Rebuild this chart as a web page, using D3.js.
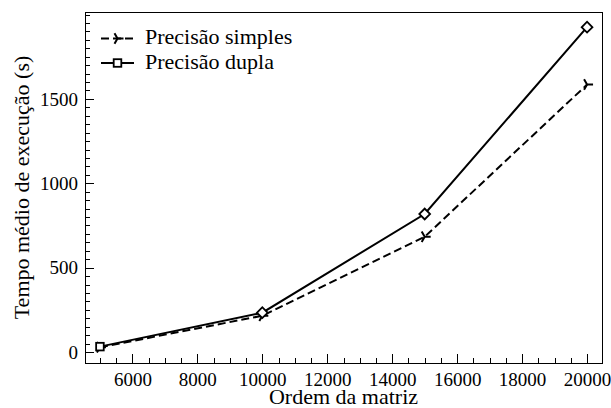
<!DOCTYPE html>
<html><head><meta charset="utf-8">
<script src="https://cdn.jsdelivr.net/npm/d3@7"></script>
<style>body{margin:0;background:#fff}</style>
</head><body>
<svg id="c" width="611" height="408"></svg>
<script>
// data
const sizes = [5000, 10000, 15000, 20000];
const simples = [28, 215, 683, 1585];
const dupla = [32, 233, 818, 1925];
const xTickValues = [6000, 8000, 10000, 12000, 14000, 16000, 18000, 20000];
const yTickValues = [0, 500, 1000, 1500];
const seriesNames = ["Precisão simples", "Precisão dupla"];
const xTitle = "Ordem da matriz";
const yTitle = "Tempo médio de execução (s)";

const FONT = '"Liberation Serif", "Times New Roman", serif';
const svg = d3.select("#c");
const L = 85, R = 602, T = 12, B = 363;
const x = d3.scaleLinear().domain([4540, 20460]).range([L, R]);
const y = d3.scaleLinear().domain([-65, 2015]).range([B, T]);
const TICK_FS = 19, TITLE_FS = 22;

// minor ticks
const xMinor = d3.range(5000, 20001, 500).filter(v => !xTickValues.includes(v));
const yMinor = d3.range(0, 2001, 50).filter(v => !yTickValues.includes(v));

const gx = svg.append("g").attr("transform", `translate(0,${B})`)
  .call(d3.axisBottom(x).tickValues(xTickValues).tickFormat(d3.format("d")).tickSizeInner(-9).tickSizeOuter(0));
const gxm = svg.append("g").attr("transform", `translate(0,${B})`)
  .call(d3.axisBottom(x).tickValues(xMinor).tickFormat("").tickSizeInner(-5).tickSizeOuter(0));
const gy = svg.append("g").attr("transform", `translate(${L},0)`)
  .call(d3.axisLeft(y).tickValues(yTickValues).tickFormat(d3.format("d")).tickSizeInner(-9).tickSizeOuter(0).tickPadding(7));
const gym = svg.append("g").attr("transform", `translate(${L},0)`)
  .call(d3.axisLeft(y).tickValues(yMinor).tickFormat("").tickSizeInner(-5).tickSizeOuter(0));
[gx, gxm, gy, gym].forEach(g => {
  g.attr("font-family", null).attr("font-size", null);
  g.select(".domain").remove();
  g.selectAll("line").attr("stroke", "#000").attr("stroke-width", 1).attr("shape-rendering", "crispEdges");
  g.selectAll("text").attr("font-family", "Liberation Serif").style("font-family", FONT)
    .style("font-size", TICK_FS + "px").attr("fill", "#000");
});
gx.selectAll("text").attr("y", 22.5).attr("dy", null);

// frame
svg.append("rect").attr("x", L).attr("y", T).attr("width", R - L).attr("height", B - T)
  .attr("fill", "none").attr("stroke", "#000").attr("stroke-width", 1).attr("shape-rendering", "crispEdges");

// lines
const line = d3.line().x((d, i) => x(sizes[i])).y(d => y(d));
svg.append("path").datum(simples).attr("d", line).attr("fill", "none")
  .attr("stroke", "#000").attr("stroke-width", 2).attr("stroke-dasharray", "8,4");
svg.append("path").datum(dupla).attr("d", line).attr("fill", "none")
  .attr("stroke", "#000").attr("stroke-width", 2);

const r = 6;
const triPath = `M0,0L${r},0M0,0L${-r/2},${-r*0.866}M0,0L${-r/2},${r*0.866}`;
svg.append("g").selectAll("path").data(simples).join("path")
  .attr("transform", (d, i) => `translate(${x(sizes[i])},${y(d)})`)
  .attr("d", triPath).attr("fill", "none").attr("stroke", "#000").attr("stroke-width", 2);
svg.append("g").selectAll("rect").data(dupla).join("rect")
  .attr("transform", (d, i) => `translate(${x(sizes[i])},${y(d)}) rotate(${i === 0 ? 0 : 45})`)
  .attr("x", -3.8).attr("y", -3.8).attr("width", 7.6).attr("height", 7.6)
  .attr("fill", "#fff").attr("stroke", "#000").attr("stroke-width", 1.8);

// legend
const lg = svg.append("g");
const lineY = [38.5, 63];
const textY = [44, 69];
lg.append("line").attr("x1", 101).attr("x2", 134).attr("y1", lineY[0]).attr("y2", lineY[0])
  .attr("stroke", "#000").attr("stroke-width", 2).attr("stroke-dasharray", "8,4");
lg.append("path").attr("transform", `translate(117.5,${lineY[0]})`).attr("d", triPath)
  .attr("fill", "none").attr("stroke", "#000").attr("stroke-width", 2);
lg.append("line").attr("x1", 101).attr("x2", 134).attr("y1", lineY[1]).attr("y2", lineY[1])
  .attr("stroke", "#000").attr("stroke-width", 2);
lg.append("rect").attr("x", 117.5 - 3.8).attr("y", lineY[1] - 3.8).attr("width", 7.6).attr("height", 7.6)
  .attr("fill", "#fff").attr("stroke", "#000").attr("stroke-width", 1.8);
seriesNames.forEach((n, i) => {
  lg.append("text").attr("x", 145).attr("y", textY[i])
    .style("font-family", FONT).style("font-size", TITLE_FS + "px").text(n);
});

// titles
svg.append("text").attr("x", (L + R) / 2).attr("y", 403.5).attr("text-anchor", "middle")
  .style("font-family", FONT).style("font-size", TITLE_FS + "px").text(xTitle);
svg.append("text").attr("transform", `translate(29,${(T + B) / 2}) rotate(-90)`)
  .attr("text-anchor", "middle").style("font-family", FONT).style("font-size", TITLE_FS + "px").text(yTitle);
</script>
</body></html>
